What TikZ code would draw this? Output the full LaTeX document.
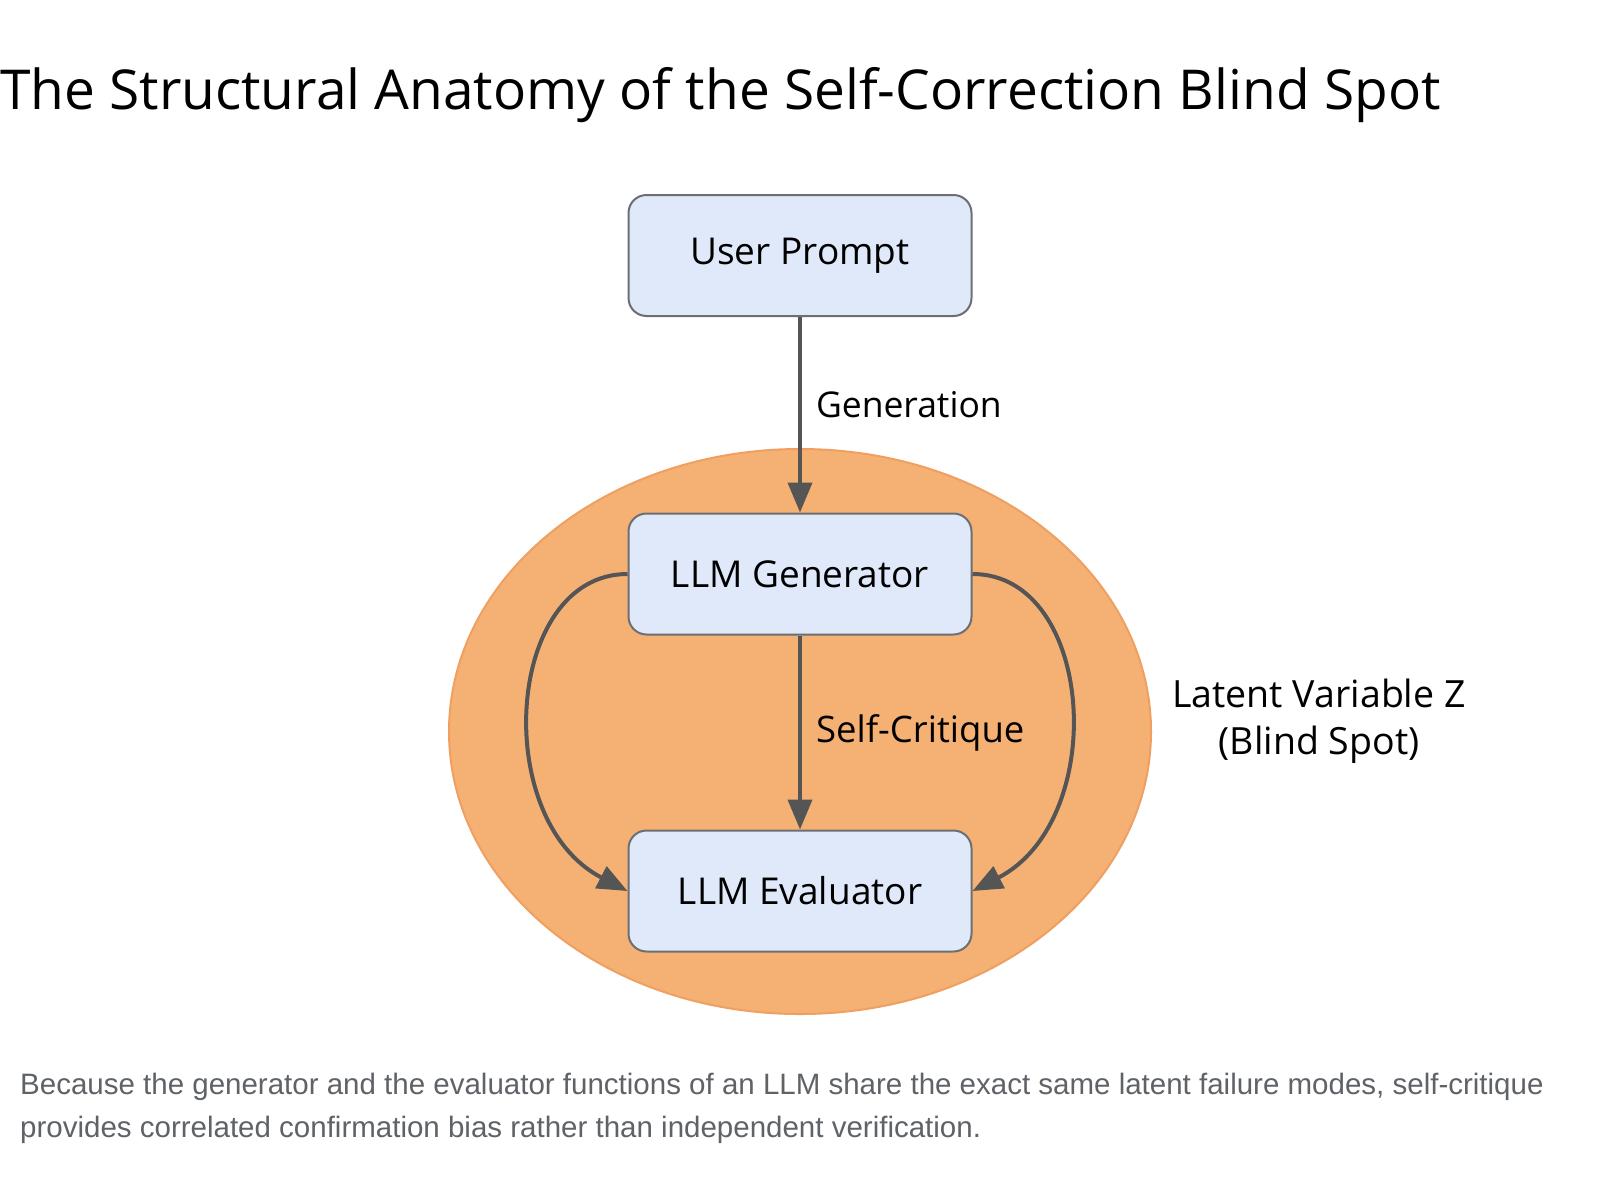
\documentclass[tikz,border=0pt]{standalone}
\usepackage{fontspec}
\setmainfont{Open Sans}
\newfontfamily\capfont{Liberation Sans}
\usetikzlibrary{arrows.meta,shapes.geometric}
\definecolor{boxfill}{HTML}{DFE9F9}
\definecolor{boxline}{HTML}{6B6E73}
\definecolor{arrowc}{HTML}{555555}
\definecolor{orangefill}{HTML}{F5B174}
\definecolor{orangeline}{HTML}{EFA060}
\definecolor{capgray}{HTML}{5F6368}
\begin{document}
\begin{tikzpicture}[x=1pt,y=-1pt,
  stagebox/.style={draw=boxline,line width=2pt,fill=boxfill,rounded corners=18pt,
    minimum width=343pt,minimum height=121pt,inner sep=0pt,
    font=\fontsize{37}{44}\selectfont},
  flow/.style={draw=arrowc,line width=4pt,-{Triangle[length=30pt,width=24pt]}},
  lbl/.style={font=\fontsize{35.5}{42}\selectfont,anchor=west,inner sep=0pt}]
\useasboundingbox (0,0) rectangle (1600,1200);
\fill[white] (0,0) rectangle (1600,1200);
\node[anchor=base west,inner sep=0pt,font=\fontsize{55}{62}\selectfont] (title) at (0,109) {The Structural Anatomy of the Self-Correction Blind Spot};
\node[ellipse,draw=orangeline,line width=2pt,fill=orangefill,minimum width=702pt,minimum height=565pt,inner sep=0pt] (latent) at (800,731.5) {};
\node[stagebox] (user) at (800,255.5) {User Prompt};
\node[stagebox] (gen) at (800,574) {LLM Generator};
\node[stagebox] (eval) at (800,891) {LLM Evaluator};
\draw[flow] (user.south) -- (gen.north) node[pos=0.45,lbl,xshift=14pt] (genlbl) {Generation};
\draw[flow] (gen.south) -- (eval.north) node[pos=0.5,lbl,xshift=14pt,font=\fontsize{36.5}{42}\selectfont] (critlbl) {Self-Critique};
\draw[flow] (gen.west) .. controls (505,574) and (490,820) .. (eval.west);
\draw[flow] (gen.east) .. controls (1095,574) and (1110,820) .. (eval.east);
\node[align=center,font=\fontsize{37.5}{47}\selectfont,inner sep=0pt] (latlbl) at (1319,721) {Latent Variable Z\\(Blind Spot)};
\node[anchor=base west,inner sep=0pt,align=left,text=capgray,font=\capfont\fontsize{29.5}{43}\selectfont] (caption) at (20,1137) {Because the generator and the evaluator functions of an LLM share the exact same latent failure modes, self-critique\\provides correlated confirmation bias rather than independent verification.};
\end{tikzpicture}
\end{document}
